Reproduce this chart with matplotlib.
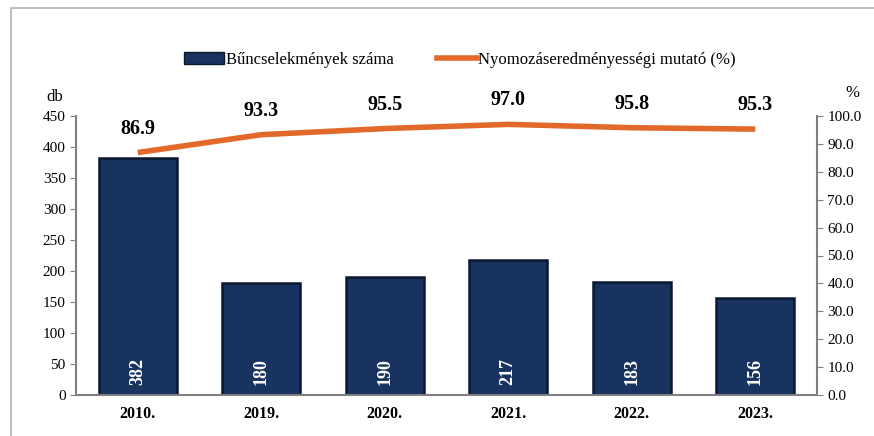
import matplotlib.pyplot as plt
from matplotlib.patches import Rectangle
from matplotlib.lines import Line2D
from matplotlib.patches import Patch

years = ["2010.", "2019.", "2020.", "2021.", "2022.", "2023."]
crimes = [382, 180, 190, 217, 183, 156]
rate = [86.9, 93.3, 95.5, 97.0, 95.8, 95.3]

plt.rcParams['font.family'] = ['Liberation Serif', 'DejaVu Serif']

bar_color = '#18335F'
edge_color = '#0A1830'
line_color = '#E2692A'
axis_gray = '#808080'

fig = plt.figure(figsize=(8.74, 4.36), dpi=100)
ax = fig.add_axes([76 / 874, 1 - 395 / 436, (817 - 76) / 874, (395 - 116) / 436])
ax2 = ax.twinx()

x = list(range(len(years)))
bars = ax.bar(x, crimes, width=0.63, color=bar_color, edgecolor=edge_color, linewidth=1.8, zorder=2)
ax.set_xlim(-0.5, len(years) - 0.5)
ax.set_ylim(0, 450)
ax.set_yticks(range(0, 451, 50))
ax.set_xticks(x)
ax.set_xticklabels(years, fontweight='bold', fontsize=11.5)
ax.tick_params(axis='x', length=0, pad=8)
ax.tick_params(axis='y', labelsize=11, length=4, color=axis_gray, direction='out')

for b, v in zip(bars, crimes):
    ax.text(b.get_x() + b.get_width() / 2, 16, str(v), rotation=90, ha='center', va='bottom',
            color='white', fontweight='bold', fontsize=13, zorder=3)

ax2.plot(x, rate, color=line_color, linewidth=4, solid_capstyle='butt', zorder=4)
ax2.set_ylim(0, 100)
ax2.set_yticks(range(0, 101, 10))
ax2.set_yticklabels([f"{t:.1f}" for t in range(0, 101, 10)])
ax2.tick_params(axis='y', labelsize=11, length=4, color=axis_gray, direction='out')
for xi, r in zip(x, rate):
    ax2.text(xi, r + 5, f"{r:.1f}", ha='center', va='bottom', fontweight='bold', fontsize=14.5)

for a in (ax, ax2):
    a.spines['top'].set_visible(False)
    for s in ('left', 'right', 'bottom'):
        a.spines[s].set_color(axis_gray)
        a.spines[s].set_linewidth(1.5)
ax.spines['right'].set_visible(False)
ax2.spines['left'].set_visible(False)
ax2.spines['bottom'].set_visible(False)

fig.text(55 / 874, 1 - 97 / 436, "db", ha='center', va='center', fontsize=12)
fig.text(852 / 874, 1 - 93 / 436, "%", ha='center', va='center', fontsize=12)

handles = [Patch(facecolor=bar_color, edgecolor=edge_color),
           Line2D([0], [0], color=line_color, linewidth=4)]
fig.legend(handles, ["Bűncselekmények száma", "Nyomozáseredményességi mutató (%)"],
           loc='center', bbox_to_anchor=(460 / 874, 1 - 60 / 436), ncol=2, frameon=False,
           fontsize=12, handlelength=2.4, handletextpad=0.1, columnspacing=2.6)

fig.patches.append(Rectangle((11 / 874, -0.1), 1.0, 1.1 - 8 / 436, transform=fig.transFigure,
                             fill=False, edgecolor='#BFBFBF', linewidth=1.5))

fig.savefig("out.png", dpi=100)
